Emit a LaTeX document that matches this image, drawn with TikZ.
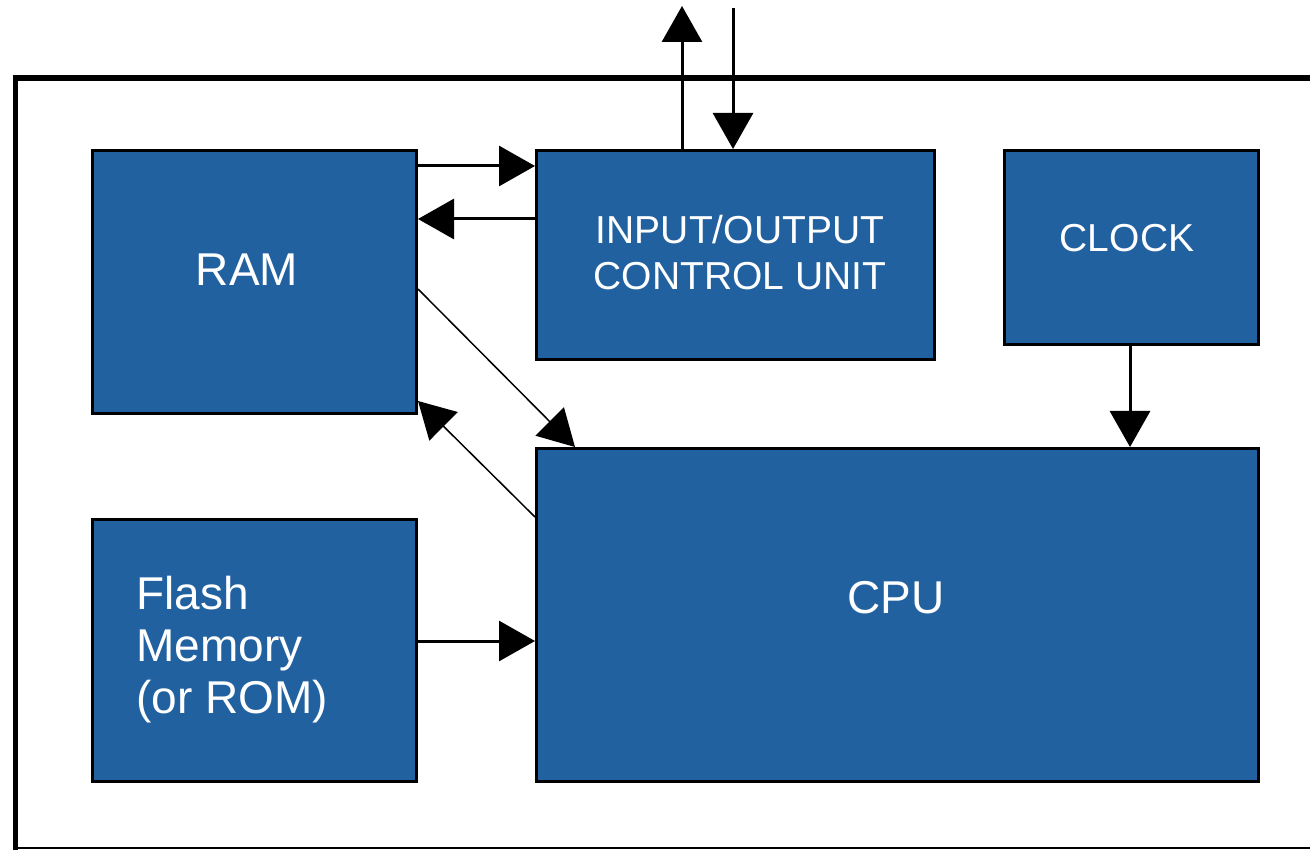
\documentclass[tikz,border=0pt]{standalone}
\usepackage{fontspec}
\setmainfont{Liberation Sans}
\usetikzlibrary{arrows.meta,calc}
\definecolor{boxblue}{HTML}{2261A0}
\tikzset{
  blk/.style={draw=black, line width=3pt, fill=boxblue, text=white, inner sep=0pt, anchor=north west},
  conn/.style={line width=3pt, -{Triangle[length=36pt,width=40pt]}},
  thinconn/.style={line width=1.5pt, -{Triangle[length=36pt,width=40pt]}},
  bigtxt/.style={font=\fontsize{46}{52}\selectfont},
  smtxt/.style={font=\fontsize{39}{46}\selectfont},
}
\begin{document}
\begin{tikzpicture}[x=1pt,y=-1pt]
\useasboundingbox (0,0) rectangle (1310,850);
% outer frame
\draw[line width=6pt] (12.5,78) -- (1310,78);
\draw[line width=5pt] (15,78) -- (15,850);
\draw[line width=2.5pt] (15,848) -- (1310,848);
% blocks
\node[blk, minimum width=324pt, minimum height=263pt] (ram) at (91,149) {};
\node[bigtxt, text=white] (ramt) at (247,270) {RAM};
\node[blk, minimum width=398pt, minimum height=209pt] (io) at (535,149) {};
\node[smtxt, text=white, align=center] (iot) at (740,253) {INPUT/OUTPUT\\CONTROL UNIT};
\node[blk, minimum width=254pt, minimum height=194pt] (clk) at (1003,149) {};
\node[smtxt, text=white] (clkt) at (1127,238) {CLOCK};
\node[blk, minimum width=722pt, minimum height=333pt] (cpu) at (535,447) {};
\node[bigtxt, text=white] (cput) at (896,598) {CPU};
\node[blk, minimum width=324pt, minimum height=262pt] (fl) at (91,518) {};
\node[bigtxt, text=white, align=left, anchor=west] (flt) at (133,650) {Flash\\Memory\\(or ROM)};
% connectors
\coordinate (outtop) at (682,6);
\coordinate (intop) at (733,8);
\draw[conn] (ram.east |- 0,166) -- (io.west |- 0,166);
\draw[conn] (io.west |- 0,219) -- (ram.east |- 0,219);
\draw[conn] (io.north -| outtop) -- (outtop);
\draw[conn] (intop) -- (io.north -| intop);
\draw[thinconn] (ram.east |- 0,289) -- (cpu.north -| 575,0);
\draw[thinconn] (cpu.west |- 0,517) -- ($(ram.south east)+(0,-14)$);
\draw[conn] (clk.south -| 1130,0) -- (cpu.north -| 1130,0);
\draw[conn] (fl.east |- 0,641) -- (cpu.west |- 0,641);
\end{tikzpicture}
\end{document}
